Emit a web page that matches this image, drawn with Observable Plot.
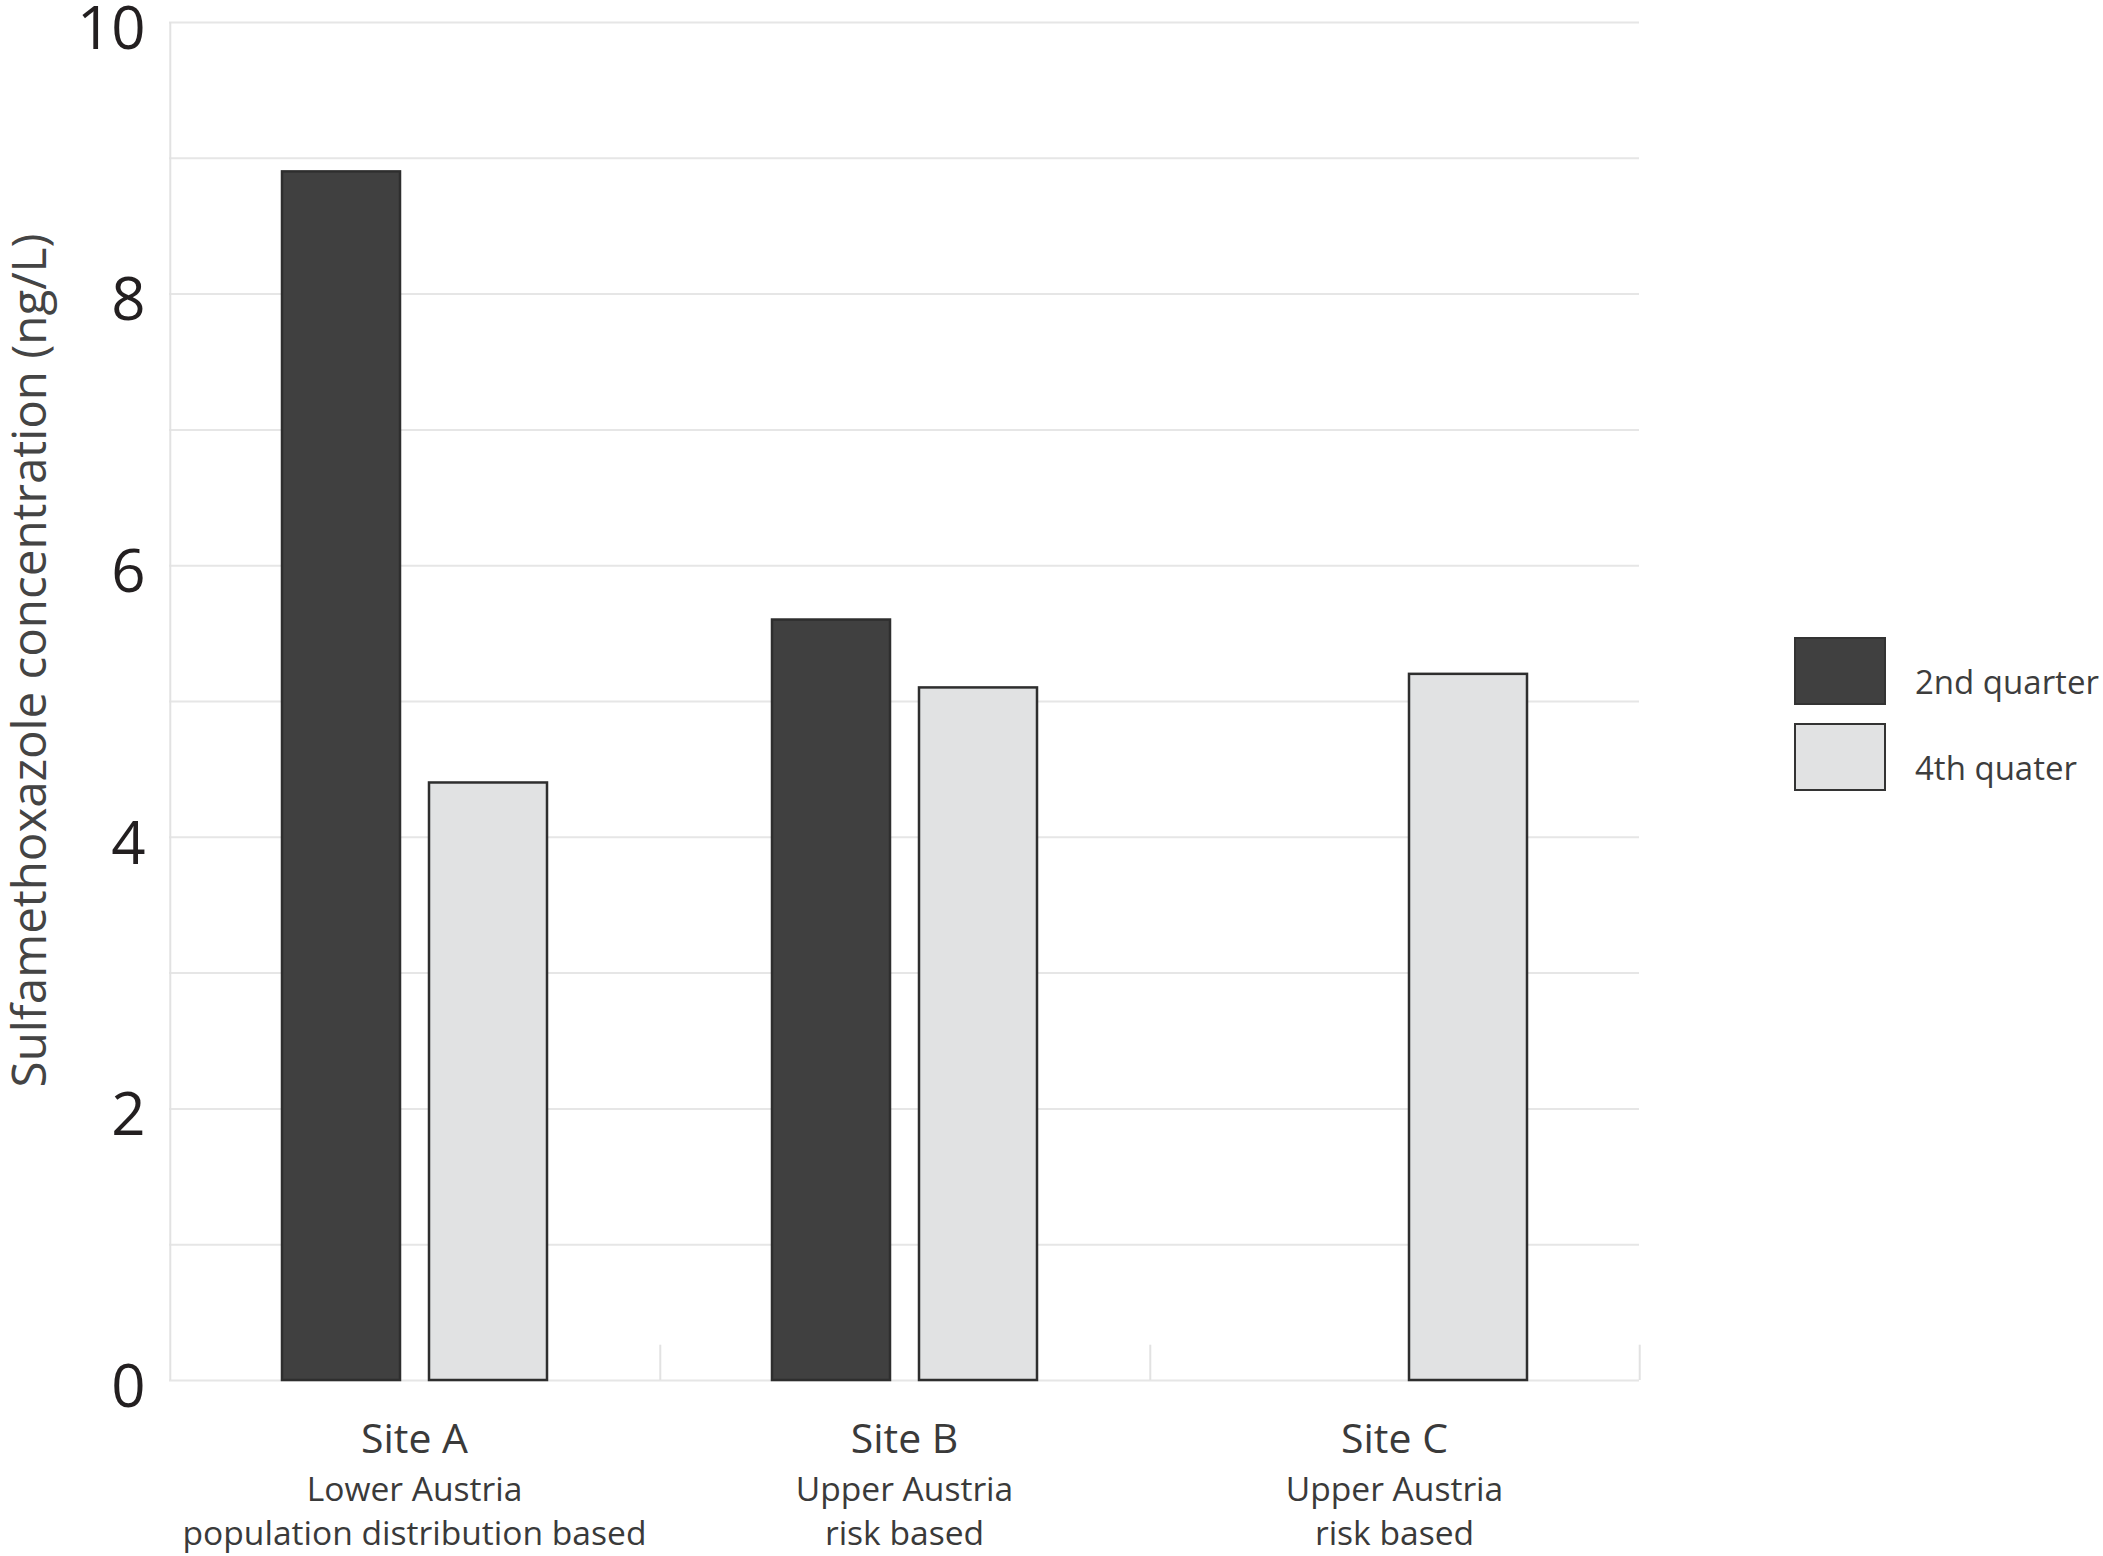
<!DOCTYPE html>
<html><head><meta charset="utf-8">
<script src="https://cdn.jsdelivr.net/npm/d3@7"></script>
<script src="https://cdn.jsdelivr.net/npm/@observablehq/plot@0.6"></script>
<style>
html,body{margin:0;padding:0;background:#fff;overflow:hidden;}
#wrap{position:relative;width:2103px;height:1556px;}
#wrap svg{overflow:visible;}
#legend{position:absolute;left:1794px;top:637px;font-family:"Open Sans",sans-serif;}
.item{display:flex;align-items:center;height:68px;margin-bottom:18px;}
.sw{width:92px;height:68px;box-sizing:border-box;border:2.5px solid #333;flex:none;}
.lab{margin-left:29px;font-size:33px;color:#3d3d3d;white-space:nowrap;position:relative;top:10px;}
</style></head><body><div id="wrap"></div>
<script>
const sites = ["Site A", "Site B", "Site C"];
const siteRegion = ["Lower Austria", "Upper Austria", "Upper Austria"];
const siteMethod = ["population distribution based", "risk based", "risk based"];
const quarters = ["2nd quarter", "4th quater"];
const q2Values = [8.9, 5.6, null];
const q4Values = [4.4, 5.1, 5.2];
const quarterColors = ["#404040", "#e1e2e3"];
const yTickValues = [0, 2, 4, 6, 8, 10];
const yGridValues = [0, 1, 2, 3, 4, 5, 6, 7, 8, 9, 10];
const yLabel = "Sulfamethoxazole concentration (ng/L)";

const rows = sites.flatMap((s, i) => [
  {site: s, quarter: quarters[0], value: q2Values[i]},
  {site: s, quarter: quarters[1], value: q4Values[i]}
]);
const subRows = sites.map((s, i) => ({site: s, t: siteRegion[i] + "\n" + siteMethod[i]}));
const sepRows = sites.map((s, i) => ({site: s, top: i === 0 ? 10 : 0.26}));

const W = 2103, H = 1556, ML = 169, MR = 464, MT = 22, MB = 176;
const pi = 0.2, po = 0.76;
const fw = (W - ML - MR) / sites.length;
const step = fw / (quarters.length - pi + 2 * po);
const bw = step * (1 - pi);
const edge = po * step + bw / 2;

const chart = Plot.plot({
  width: W, height: H,
  marginLeft: ML, marginRight: MR, marginTop: MT, marginBottom: MB,
  style: {fontFamily: "'Open Sans', sans-serif", background: "#fff", overflow: "visible"},
  fx: {domain: sites, padding: 0, axis: null},
  x: {domain: quarters, paddingInner: pi, paddingOuter: po, axis: null},
  y: {domain: [0, 10]},
  color: {domain: quarters, range: quarterColors},
  marks: [
    Plot.ruleY(yGridValues, {stroke: "#e6e6e6", strokeWidth: 2}),
    Plot.ruleX(sepRows, {fx: "site", x: () => quarters[0], dx: -edge, y1: 0, y2: "top", stroke: "#e2e2e2", strokeWidth: 2}),
    Plot.ruleX([sites[sites.length - 1]], {fx: d => d, x: () => quarters[quarters.length - 1], dx: edge, y1: 0, y2: 0.26, stroke: "#e2e2e2", strokeWidth: 2}),
    Plot.barY(rows, {fx: "site", x: "quarter", y: "value", fill: "quarter", stroke: "#2e2e2e", strokeWidth: 2.5}),
    Plot.axisY({ticks: yTickValues, tickSize: 0, tickPadding: 24, fontSize: 60, fill: "#231f20", label: null, dy: 7}),
    Plot.text([yLabel], {fx: () => sites[0], text: d => d, frameAnchor: "left", textAnchor: "middle", lineAnchor: "middle", rotate: -90, dx: -139, dy: -41, fontSize: 47.5, fill: "#444"}),
    Plot.text(sites, {fx: d => d, text: d => d, frameAnchor: "bottom", lineAnchor: "middle", dy: 59, fontSize: 41, fill: "#3a3a3a"}),
    Plot.text(subRows, {fx: "site", text: "t", frameAnchor: "bottom", lineAnchor: "middle", dy: 128, fontSize: 33.6, lineHeight: 1.31, fill: "#3a3a3a"})
  ]
});
const wrap = document.getElementById("wrap");
wrap.appendChild(chart);

const legend = d3.select(wrap).append("div").attr("id", "legend");
const items = legend.selectAll(".item").data(quarters).join("div").attr("class", "item");
items.append("div").attr("class", "sw").style("background", (d, i) => quarterColors[i]);
items.append("div").attr("class", "lab").text(d => d);
</script>
</body></html>
